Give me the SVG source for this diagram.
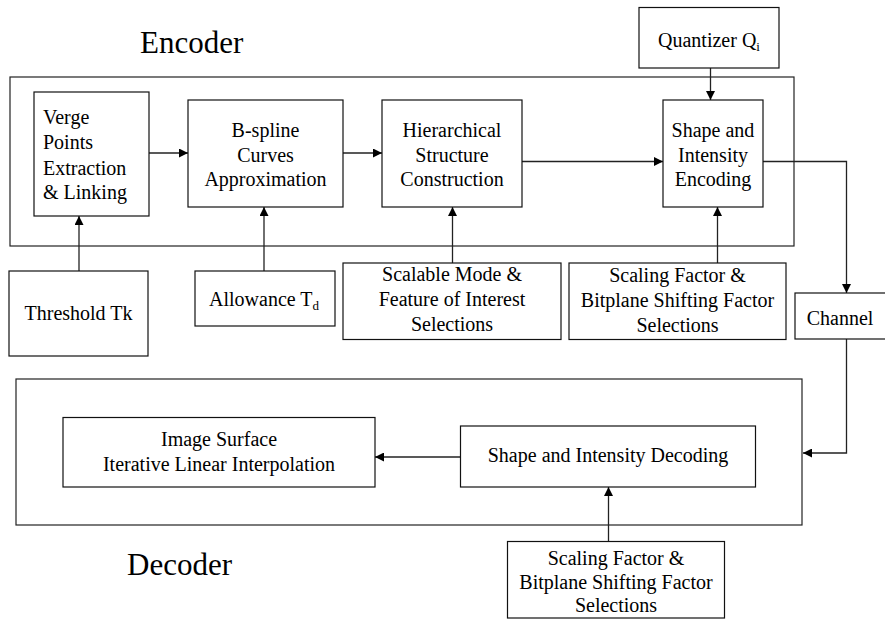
<svg xmlns="http://www.w3.org/2000/svg" width="885" height="619" viewBox="0 0 885 619">
<defs>
<marker id="ah" viewBox="0 0 10 10" refX="10" refY="5" markerWidth="9" markerHeight="9" markerUnits="userSpaceOnUse" orient="auto">
<path d="M0,0 L10,5 L0,10 z" fill="#000"/>
</marker>
</defs>
<rect width="885" height="619" fill="#fff"/>
<g id="frames" fill="none" stroke="#222" stroke-width="1.2">
<rect x="10" y="77" width="784" height="169"/>
<rect x="16" y="379" width="786" height="146"/>
</g>
<text style="font-family:'Times New Roman','Liberation Serif',serif;font-size:31px" x="140" y="53">Encoder</text>
<text style="font-family:'Times New Roman','Liberation Serif',serif;font-size:31px" x="127" y="575">Decoder</text>

<g id="connectors" fill="none" stroke="#222" stroke-width="1.3" marker-end="url(#ah)">
<line x1="149" y1="153" x2="188" y2="153"/>
<line x1="343" y1="153" x2="382" y2="153"/>
<line x1="522" y1="161.5" x2="663" y2="161.5"/>
<line x1="710.5" y1="68" x2="710.5" y2="100"/>
<line x1="79" y1="271" x2="79" y2="216"/>
<line x1="264" y1="271" x2="264" y2="207"/>
<line x1="452.5" y1="263" x2="452.5" y2="207"/>
<line x1="717.5" y1="263" x2="717.5" y2="207"/>
<polyline points="763,161.5 846.5,161.5 846.5,293"/>
<polyline points="846.5,339 846.5,453 803,453"/>
<line x1="460" y1="457" x2="375" y2="457"/>
<line x1="608.5" y1="541.5" x2="608.5" y2="487"/>
</g>

<g style="font-family:'Times New Roman','Liberation Serif',serif;font-size:20px" text-anchor="middle">
<g id="verge">
<rect x="34" y="92" width="115" height="124" fill="#fff" stroke="#111" stroke-width="1.2"/>
<text text-anchor="start" x="43" y="124">Verge</text>
<text text-anchor="start" x="43" y="149">Points</text>
<text text-anchor="start" x="43" y="175">Extraction</text>
<text text-anchor="start" x="43" y="199">&amp; Linking</text>
</g>

<g id="bspline">
<rect x="188" y="100" width="155" height="107" fill="#fff" stroke="#111" stroke-width="1.2"/>
<text x="265.5" y="137">B-spline</text>
<text x="265.5" y="162">Curves</text>
<text x="265.5" y="186">Approximation</text>
</g>

<g id="hierarchical">
<rect x="382" y="100" width="140" height="107" fill="#fff" stroke="#111" stroke-width="1.2"/>
<text x="452" y="137">Hierarchical</text>
<text x="452" y="162">Structure</text>
<text x="452" y="186">Construction</text>
</g>

<g id="encoding">
<rect x="663" y="100" width="100" height="107" fill="#fff" stroke="#111" stroke-width="1.2"/>
<text x="713" y="137">Shape and</text>
<text x="713" y="162">Intensity</text>
<text x="713" y="186">Encoding</text>
</g>

<g id="quantizer">
<rect x="639" y="7.5" width="140" height="60.5" fill="#fff" stroke="#111" stroke-width="1.2"/>
<text x="709" y="47">Quantizer Q<tspan font-size="13" dy="4">i</tspan></text>
</g>

<g id="threshold">
<rect x="9" y="271" width="139" height="85" fill="#fff" stroke="#111" stroke-width="1.2"/>
<text x="78.5" y="320">Threshold Tk</text>
</g>

<g id="allowance">
<rect x="195" y="271" width="140" height="55" fill="#fff" stroke="#111" stroke-width="1.2"/>
<text x="264" y="306">Allowance T<tspan font-size="13" dy="4">d</tspan></text>
</g>

<g id="scalable">
<rect x="343" y="263" width="218" height="76.5" fill="#fff" stroke="#111" stroke-width="1.2"/>
<text x="452" y="281">Scalable Mode &amp;</text>
<text x="452" y="306">Feature of Interest</text>
<text x="452" y="331">Selections</text>
</g>

<g id="scaling-enc">
<rect x="569" y="263" width="217" height="76.5" fill="#fff" stroke="#111" stroke-width="1.2"/>
<text x="677.5" y="282">Scaling Factor &amp;</text>
<text x="677.5" y="307">Bitplane Shifting Factor</text>
<text x="677.5" y="332">Selections</text>
</g>

<g id="channel">
<rect x="795" y="293" width="95" height="46" fill="#fff" stroke="#111" stroke-width="1.2"/>
<text x="840" y="325">Channel</text>
</g>

<g id="interp">
<rect x="63" y="417.5" width="312" height="69.5" fill="#fff" stroke="#111" stroke-width="1.2"/>
<text x="219" y="446">Image Surface</text>
<text x="219" y="471">Iterative Linear Interpolation</text>
</g>

<g id="decoding">
<rect x="460.5" y="426" width="295" height="61" fill="#fff" stroke="#111" stroke-width="1.2"/>
<text x="608" y="462">Shape and Intensity Decoding</text>
</g>

<g id="scaling-dec">
<rect x="507.5" y="541.5" width="217" height="76.5" fill="#fff" stroke="#111" stroke-width="1.2"/>
<text x="616" y="565">Scaling Factor &amp;</text>
<text x="616" y="589">Bitplane Shifting Factor</text>
<text x="616" y="612">Selections</text>
</g>
</g>
</svg>
